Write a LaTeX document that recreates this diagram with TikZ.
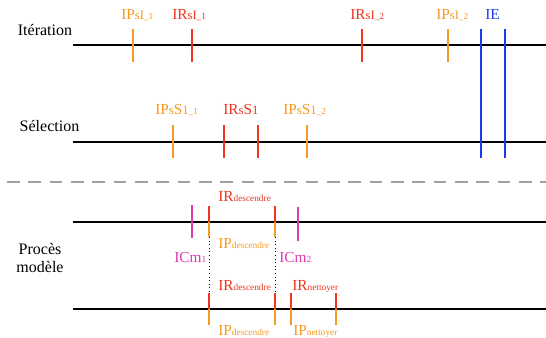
\documentclass[tikz,border=0pt]{standalone}
\usepackage{fontspec}
\setmainfont{Liberation Serif}
\usetikzlibrary{positioning}
\definecolor{ipOrange}{RGB}{247,152,32}
\definecolor{irRed}{RGB}{240,52,30}
\definecolor{ieBlue}{RGB}{28,58,240}
\definecolor{icmPink}{RGB}{222,58,178}
\definecolor{sepGray}{RGB}{160,160,160}
\newcommand{\midsz}[1]{{\fontsize{9.5}{10}\selectfont #1}}
\newcommand{\subsz}[1]{{\fontsize{7}{7.5}\selectfont #1}}

\begin{document}
\begin{tikzpicture}[
  x=0.75pt, y=-0.75pt,
  timeline/.style={line width=1.5pt},
  tickmark/.style={line width=1.1pt},
  rowlabel/.style={font=\fontsize{12}{13.5}\selectfont, align=center, inner sep=0pt},
  ticklabel/.style={font=\fontsize{11.5}{12}\selectfont, anchor=base west, inner sep=0pt},
  separator/.style={sepGray, line width=2.2pt, dash pattern=on 9.5pt off 6.5pt},
  link/.style={dotted, line width=0.7pt},
]
\useasboundingbox (0,0) rectangle (546,338);

  % Timelines
  \foreach \name/\y in {iter/45, sel/142, procA/222, procB/309} {
    \coordinate (\name L) at (73,\y);
    \coordinate (\name R) at (546,\y);
    \draw [timeline] (\name L) -- (\name R);
  }

  % Row labels
  \node (iterlabel) [rowlabel, anchor=base] at (45,36) {Itération};
  \node (sellabel) [rowlabel, anchor=base] at (49.5,132) {Sélection};
  \node (proclabel) [rowlabel] at (40,258) {Procès\\modèle};

  % Separator
  \coordinate (sepL) at (7,182);
  \coordinate (sepR) at (546,182);
  \draw [separator] (sepL) -- (sepR);

  % Iteration ticks
  \foreach \x/\col in {133/ipOrange, 192/irRed, 362/irRed, 448/ipOrange} {
    \draw [tickmark, \col] (\x,29) -- (\x,62);
  }
  % Selection ticks
  \foreach \x/\col in {173/ipOrange, 224/irRed, 258/irRed, 307/ipOrange} {
    \draw [tickmark, \col] (\x,125) -- (\x,158);
  }
  % IE lines across both rows
  \foreach \x in {481, 505} {
    \draw [tickmark, ieBlue] (\x,29) -- (\x,158);
  }

  % Process ticks
  \foreach \x in {209, 275} {
    \draw [tickmark, irRed] (\x,206) -- (\x,222);
    \draw [tickmark, ipOrange] (\x,222) -- (\x,237);
    \draw [link] (\x,237) -- (\x,293);
  }
  \foreach \x in {209, 275, 291, 336} {
    \draw [tickmark, irRed] (\x,293) -- (\x,309);
    \draw [tickmark, ipOrange] (\x,309) -- (\x,325);
  }
  \draw [tickmark, icmPink] (192,205) -- (192,238);
  \draw [tickmark, icmPink] (298,207) -- (298,241);

  % Iteration labels
  \node (ipsi1) [ticklabel, ipOrange] at (121,20) {IP\midsz{sI}\subsz{\_1}};
  \node (irsi1) [ticklabel, irRed] at (172,20) {IR\midsz{sI}\subsz{\_1}};
  \node (irsi2) [ticklabel, irRed] at (350,20) {IR\midsz{sI}\subsz{\_2}};
  \node (ipsi2) [ticklabel, ipOrange] at (436,20) {IP\midsz{sI}\subsz{\_2}};
  \node (ie) [ticklabel, ieBlue] at (485,20) {IE};

  % Selection labels
  \node (ipss1) [ticklabel, ipOrange] at (155,115) {IP\midsz{s}S\midsz{1}\subsz{\_1}};
  \node (irss) [ticklabel, irRed] at (223,115) {IR\midsz{s}S\midsz{1}};
  \node (ipss2) [ticklabel, ipOrange] at (283,115) {IP\midsz{s}S\midsz{1}\subsz{\_2}};

  % Process labels
  \node (irdesc1) [ticklabel, irRed] at (218,202) {IR\subsz{descendre}};
  \node (ipdesc1) [ticklabel, ipOrange] at (218,249) {IP\subsz{descendre}};
  \node (icm1) [ticklabel, icmPink] at (174,263) {ICm\subsz{1}};
  \node (icm2) [ticklabel, icmPink] at (279,263) {ICm\subsz{2}};
  \node (irdesc2) [ticklabel, irRed] at (218,291) {IR\subsz{descendre}};
  \node (irnet) [ticklabel, irRed] at (292,291) {IR\subsz{nettoyer}};
  \node (ipdesc2) [ticklabel, ipOrange] at (218,335) {IP\subsz{descendre}};
  \node (ipnet) [ticklabel, ipOrange] at (293,335) {IP\subsz{nettoyer}};

\end{tikzpicture}
\end{document}
